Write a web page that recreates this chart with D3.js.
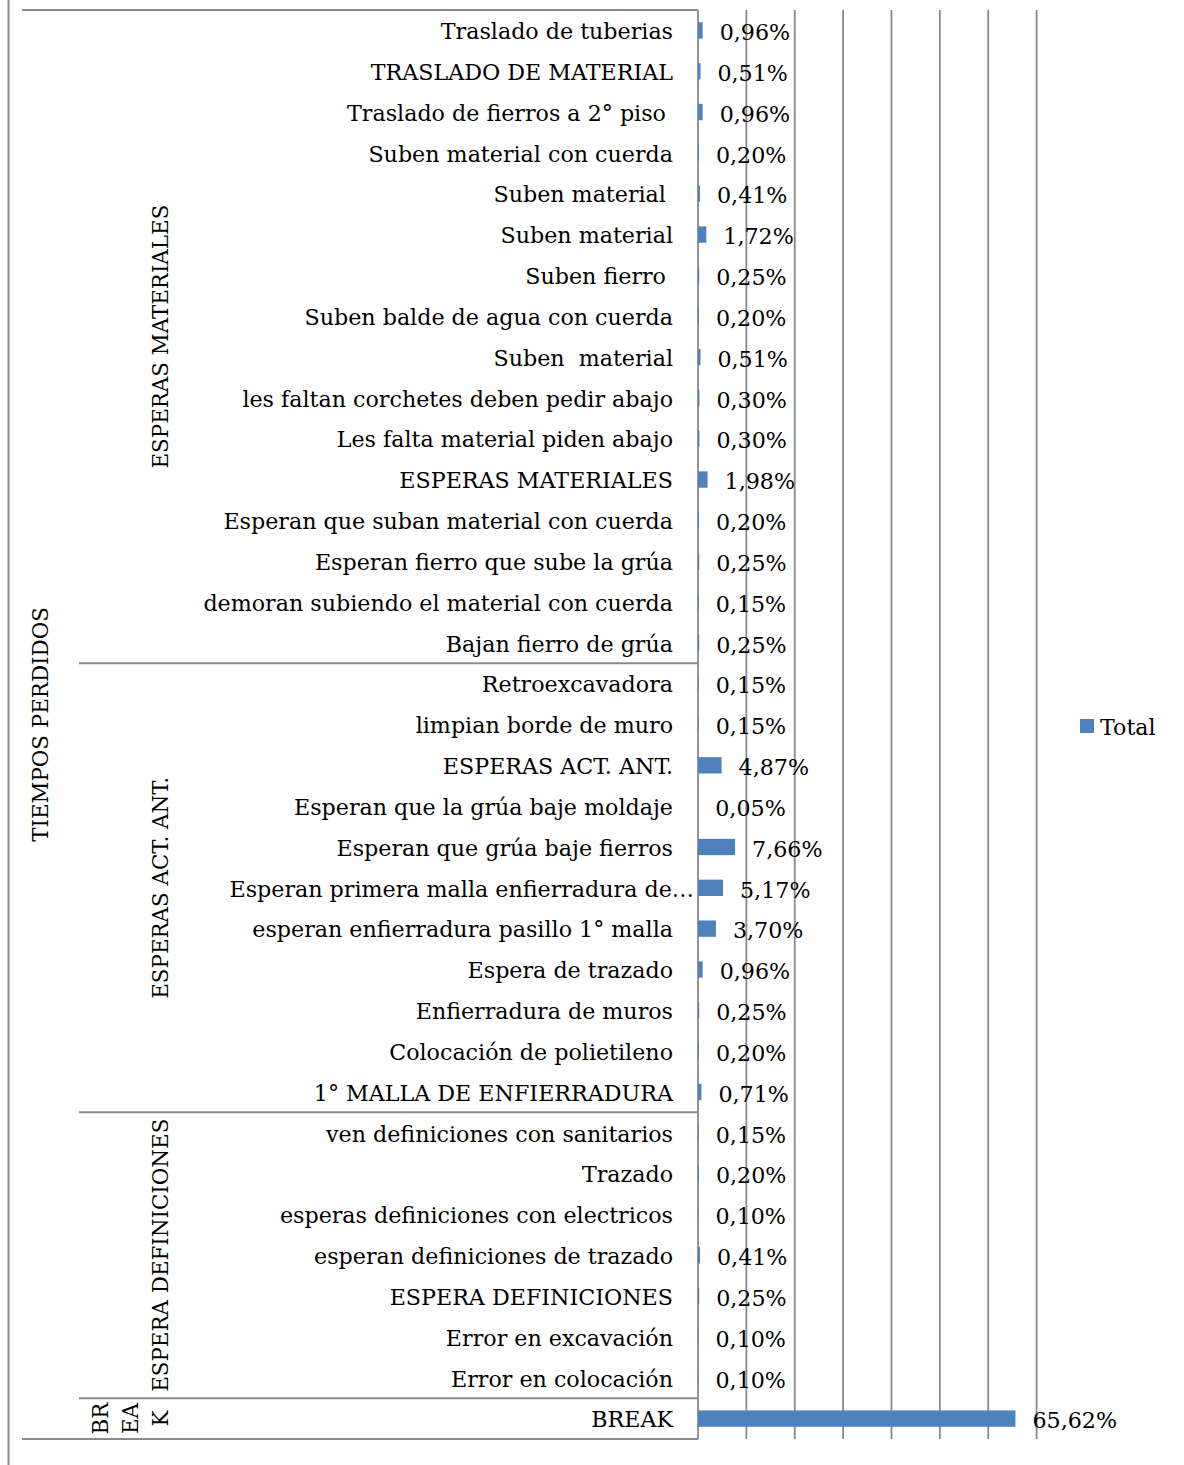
<!DOCTYPE html>
<html><head><meta charset="utf-8">
<script src="https://cdn.jsdelivr.net/npm/d3@7"></script>
<style>body{margin:0;background:#fff}svg{display:block}text{font-family:"DejaVu Serif",serif;fill:#000}</style>
</head><body>
<svg id="c" width="1184" height="1465"></svg>
<script>
const categories = [
  "Traslado de tuberias","TRASLADO DE MATERIAL","Traslado de fierros a 2° piso ","Suben material con cuerda",
  "Suben material ","Suben material","Suben fierro ","Suben balde de agua con cuerda","Suben  material",
  "les faltan corchetes deben pedir abajo","Les falta material piden abajo","ESPERAS MATERIALES",
  "Esperan que suban material con cuerda","Esperan fierro que sube la grúa","demoran subiendo el material con cuerda",
  "Bajan fierro de grúa",
  "Retroexcavadora","limpian borde de muro","ESPERAS ACT. ANT.","Esperan que la grúa baje moldaje",
  "Esperan que grúa baje fierros","Esperan primera malla enfierradura de…","esperan enfierradura pasillo 1° malla",
  "Espera de trazado","Enfierradura de muros","Colocación de polietileno","1° MALLA DE ENFIERRADURA",
  "ven definiciones con sanitarios","Trazado","esperas definiciones con electricos","esperan definiciones de trazado",
  "ESPERA DEFINICIONES","Error en excavación","Error en colocación",
  "BREAK"
];
const values = [
  0.96,0.51,0.96,0.20,0.41,1.72,0.25,0.20,0.51,0.30,0.30,1.98,0.20,0.25,0.15,0.25,
  0.15,0.15,4.87,0.05,7.66,5.17,3.70,0.96,0.25,0.20,0.71,
  0.15,0.20,0.10,0.41,0.25,0.10,0.10,
  65.62
];
const groupNames = ["ESPERAS MATERIALES","ESPERAS ACT. ANT.","ESPERA DEFINICIONES","BREAK"];
const groupLines = [["ESPERAS MATERIALES"],["ESPERAS ACT. ANT."],["ESPERA DEFINICIONES"],["BR","EA","K"]];
const groupCounts = [16,11,7,1];
const topGroup = "TIEMPOS PERDIDOS";
const xTicks = [0,10,20,30,40,50,60,70];
const seriesName = "Total";

(function(){
const svg = d3.select("#c");
const y0 = 10, y1 = 1439, left = 698, right = 1036.6;
const x = d3.scaleLinear().domain([0,70]).range([left,right]);
const y = d3.scaleBand().domain(d3.range(categories.length)).range([y0,y1]).paddingInner(0.6).paddingOuter(0.3);
const grey = "#8a8a8a", blue = "#4F81BD", fs = 22.2, fsRot = 21.4;

svg.append("line").attr("x1",8.5).attr("x2",8.5).attr("y1",0).attr("y2",1465).attr("stroke",grey).attr("stroke-width",2);

svg.append("g").selectAll("line").data(xTicks).join("line")
  .attr("x1",d=>x(d)).attr("x2",d=>x(d)).attr("y1",y0).attr("y2",y1)
  .attr("stroke",grey).attr("stroke-width",1.8);

const step = y.step();
svg.append("line").attr("x1",22).attr("x2",left).attr("y1",y0).attr("y2",y0).attr("stroke",grey).attr("stroke-width",2);
svg.append("line").attr("x1",22).attr("x2",left).attr("y1",y1).attr("y2",y1).attr("stroke",grey).attr("stroke-width",2);
let acc = 0;
const gpos = groupNames.map((g,i)=>{const s=acc; acc+=groupCounts[i]; return {lines:groupLines[i], s, e:acc};});
gpos.slice(0,-1).forEach(p=>{
  const yy = y0 + p.e*step;
  svg.append("line").attr("x1",79).attr("x2",left).attr("y1",yy).attr("y2",yy).attr("stroke",grey).attr("stroke-width",2);
});

svg.append("g").selectAll("rect").data(values).join("rect")
  .attr("x",left).attr("y",(d,i)=>y(i)).attr("height",y.bandwidth())
  .attr("width",d=>x(d)-left).attr("fill",blue);

svg.append("g").selectAll("text").data(values).join("text")
  .attr("x",d=>x(d)+17).attr("y",(d,i)=>y(i)+y.bandwidth()/2+2).attr("dy","0.35em")
  .attr("font-size",fs).text(d=>d.toFixed(2).replace(".",",")+"%");

svg.append("g").selectAll("text").data(categories).join("text")
  .attr("xml:space","preserve").style("white-space","pre")
  .attr("x",d=>d.endsWith("…")?694:673).attr("y",(d,i)=>y(i)+y.bandwidth()/2+1).attr("dy","0.35em")
  .attr("text-anchor","end").attr("font-size",fs).text(d=>d);

gpos.forEach(p=>{
  const cy = y0 + (p.s+p.e)/2*step;
  const n = p.lines.length, lh = 30;
  p.lines.forEach((ln,k)=>{
    const cx = 160 - (n-1-k)*lh;
    svg.append("text").attr("transform",`translate(${cx},${cy}) rotate(-90)`)
      .attr("text-anchor","middle").attr("dy","0.35em").attr("font-size",fsRot).text(ln);
  });
});
svg.append("text").attr("transform",`translate(40,${(y0+y1)/2}) rotate(-90)`)
  .attr("text-anchor","middle").attr("dy","0.35em").attr("font-size",fsRot).text(topGroup);

svg.append("rect").attr("x",1080).attr("y",719).attr("width",14).attr("height",14).attr("fill",blue);
svg.append("text").attr("x",1100).attr("y",727).attr("dy","0.35em").attr("font-size",fs).text(seriesName);
})();
</script>
</body></html>
